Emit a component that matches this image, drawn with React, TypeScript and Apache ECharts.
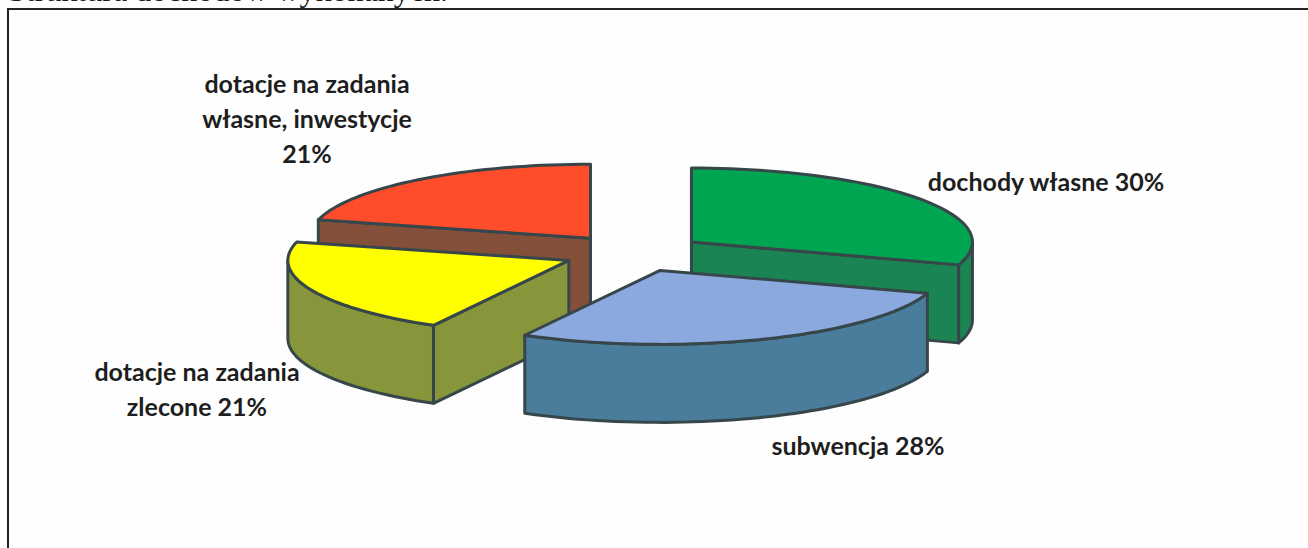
import React, { useEffect, useRef } from "react";
import * as echarts from "echarts";

const categories = [
  "dochody własne",
  "subwencja",
  "dotacje na zadania\nzlecone",
  "dotacje na zadania\nwłasne, inwestycje",
];
const shares = [30, 28, 21, 21];
const labelSeparators = [" ", " ", " ", "\n"];
const titleText = "Struktura dochodów wykonanych.";

const topColors = ["#00A551", "#8BA9DE", "#FFFF00", "#FF4D2C"];
const sideColors = ["#1A8552", "#4A7D9B", "#87963A", "#85503A"];
const stackOrder = [1, 3, 2, 0];
const labelAnchors = [
  [1046, 181],
  [858, 445],
  [197, 388],
  [307, 118],
];

const CX = 634;
const CY = 253;
const RX = 281;
const RY = 74;
const DEPTH = 78;
const EXPLODE = 71;
const EDGE = "#36464A";

function renderSlice(params: any, api: any) {
  const i = params.dataIndex;
  const total = shares.reduce((a, b) => a + b, 0);
  const before = shares.slice(0, i).reduce((a, b) => a + b, 0);
  const value = api.value(0);
  const rad = Math.PI / 180;
  const a0 = 90 - (before / total) * 360;
  const a1 = a0 - (value / total) * 360;
  const mid = (a0 + a1) / 2;
  const ax = CX + EXPLODE * Math.cos(mid * rad);
  const ay = CY - EXPLODE * (RY / RX) * Math.sin(mid * rad);
  const rim = (deg: number, drop = 0) => [
    ax + RX * Math.cos(deg * rad),
    ay - RY * Math.sin(deg * rad) + drop,
  ];
  const arc = (from: number, to: number, drop = 0) => {
    const n = Math.max(2, Math.ceil(Math.abs(from - to) / 2));
    return Array.from({ length: n + 1 }, (_, k) =>
      rim(from + ((to - from) * k) / n, drop),
    );
  };
  const order = stackOrder[i] * 10;
  const children: any[] = [];
  const poly = (points: number[][], fill: string, z2: number) =>
    children.push({
      type: "polygon",
      shape: { points },
      z2,
      style: { fill, stroke: EDGE, lineWidth: 3, lineJoin: "round" },
    });

  const cutFace = (deg: number, normal: number, z2: number) => {
    if (Math.sin(normal * rad) < -1e-6) {
      poly(
        [[ax, ay], rim(deg), rim(deg, DEPTH), [ax, ay + DEPTH]],
        sideColors[i],
        z2,
      );
    }
  };
  cutFace(a0, a0 + 90, order + 1);
  cutFace(a1, a1 - 90, order + 1);

  // Outer wall: only the part of the rim on the near half of the ellipse.
  const lo = Math.max(a1, -180);
  const hi = Math.min(a0, 0);
  if (hi > lo) {
    poly(
      [...arc(hi, lo), ...arc(lo, hi, DEPTH)],
      sideColors[i],
      order + 2,
    );
  }
  poly([[ax, ay], ...arc(a0, a1)], topColors[i], order + 3);

  children.push({
    type: "text",
    z2: 100,
    style: {
      x: labelAnchors[i][0],
      y: labelAnchors[i][1],
      text: `${categories[i]}${labelSeparators[i]}${value}%`,
      fill: "#1E1E1E",
      font: 'bold 25px Lato, "Noto Sans", sans-serif',
      lineHeight: 35,
      align: "center",
      verticalAlign: "middle",
    },
  });
  return { type: "group", children };
}

export default function App() {
  const ref = useRef<HTMLDivElement>(null);
  useEffect(() => {
    const chart = echarts.init(ref.current!, undefined, { renderer: "svg" });
    chart.setOption({
      animation: false,
      backgroundColor: "#FEFEFE",
      graphic: [
        {
          type: "text",
          x: 8,
          y: 6,
          style: {
            text: titleText,
            fill: "#1A1A1A",
            font: '32px "Liberation Serif", serif',
            verticalAlign: "bottom",
          },
        },
        {
          type: "polyline",
          shape: { points: [[8, 548], [8, 9], [1308, 9]] },
          style: { stroke: "#222222", lineWidth: 2, fill: "none" },
        },
      ],
      series: [
        {
          type: "custom",
          coordinateSystem: "none",
          silent: true,
          clip: false,
          data: shares.map((v, i) => ({ name: categories[i], value: [v] })),
          renderItem: renderSlice,
        },
      ],
    });
    return () => chart.dispose();
  }, []);
  return (
    <div
      ref={ref}
      style={{ position: "absolute", left: 0, top: 0, width: 1308, height: 548 }}
    />
  );
}
